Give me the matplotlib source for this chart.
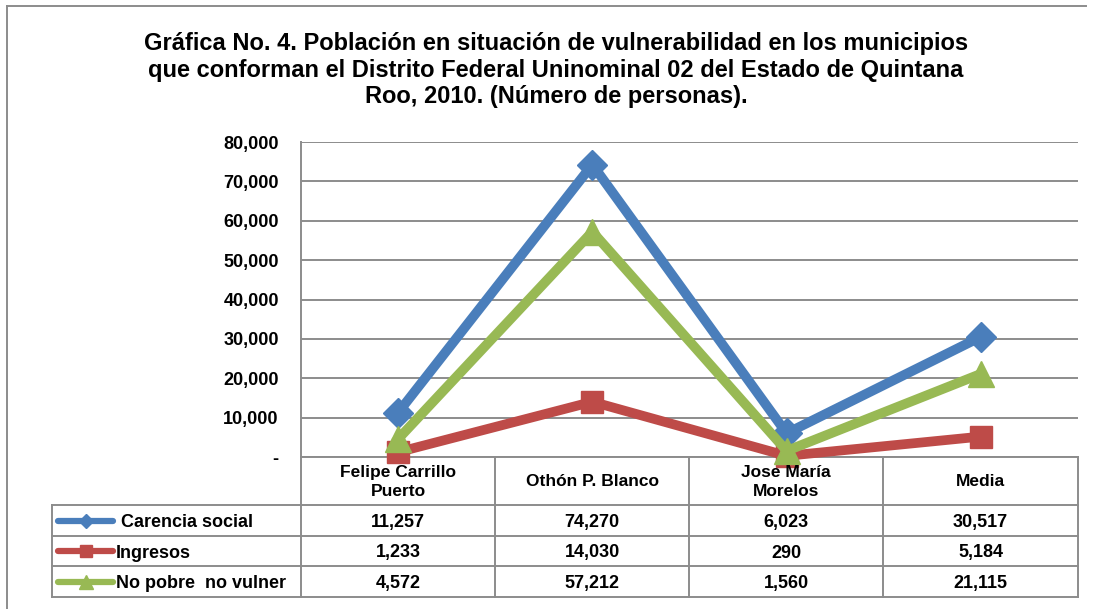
import matplotlib
matplotlib.use("Agg")
import matplotlib.pyplot as plt
from matplotlib.lines import Line2D
from matplotlib.ticker import FuncFormatter

plt.rcParams['font.family'] = ['Liberation Sans', 'DejaVu Sans']
plt.rcParams['font.weight'] = 'bold'

# data
municipios = ["Felipe Carrillo\nPuerto", "Othón P. Blanco", "Jose María\nMorelos", "Media"]
series_names = ["Carencia social", "Ingresos", "No pobre  no vulner"]
carencia = [11257, 74270, 6023, 30517]
ingresos = [1233, 14030, 290, 5184]
no_pobre = [4572, 57212, 1560, 21115]
y_ticks = [0, 10000, 20000, 30000, 40000, 50000, 60000, 70000, 80000]

series = [carencia, ingresos, no_pobre]
colors = ["#4a7ebb", "#be4b48", "#98b954"]
markers = ["D", "s", "^"]
msizes = [15, 16, 19]

W, H = 1095, 609
fig = plt.figure(figsize=(W / 100, H / 100), dpi=100)

def fx(x):
    return x / W

def fy(y):
    return 1 - y / H

grey = "#8c8c8c"
fs = 13

# plot area in pixels
L, R, T, B = 301, 1078, 142, 457
ax = fig.add_axes([fx(L), fy(B), fx(R - L), (B - T) / H])
ax.set_xlim(-0.5, 3.5)
ax.set_ylim(0, 80000)
ax.set_yticks(y_ticks)
ax.yaxis.set_major_formatter(FuncFormatter(lambda v, p: "-" if v == 0 else f"{int(v):,}"))
ax.set_xticks([])
ax.tick_params(axis='y', length=0, pad=16, labelsize=fs)
for lab in ax.get_yticklabels():
    lab.set_fontweight('bold')
ax.grid(axis='y', color=grey, linewidth=1.4)
ax.set_axisbelow(True)
for s in ['top', 'right']:
    ax.spines[s].set_visible(False)
for s in ['left', 'bottom']:
    ax.spines[s].set_color(grey)
    ax.spines[s].set_linewidth(1.4)

xs = range(len(municipios))
for vals, c, m, ms in zip(series, colors, markers, msizes):
    ax.plot(xs, vals, color=c, linewidth=7, marker=m, markersize=ms,
            clip_on=False, zorder=5, solid_joinstyle='miter')

# outer frame of the picture
fig.add_artist(Line2D([fx(7), fx(7)], [fy(6), fy(H)], color=grey, lw=1.4, transform=fig.transFigure))
fig.add_artist(Line2D([fx(7), fx(1086)], [fy(6), fy(6)], color=grey, lw=1.4, transform=fig.transFigure))

# title
fig.text(fx(556), fy(70),
         "Gráfica No. 4. Población en situación de vulnerabilidad en los municipios\n"
         "que conforman el Distrito Federal Uninominal 02 del Estado de Quintana\n"
         "Roo, 2010. (Número de personas).",
         ha='center', va='center', fontsize=17, fontweight='bold', linespacing=1.2)

# data table
cols = [301, 495, 689, 883, 1078]
rows = [457, 505, 536, 566, 597]
leg_left = 52

def hline(x0, x1, y):
    fig.add_artist(Line2D([fx(x0), fx(x1)], [fy(y), fy(y)], color=grey, lw=1.4,
                          transform=fig.transFigure, zorder=1))

def vline(x, y0, y1):
    fig.add_artist(Line2D([fx(x), fx(x)], [fy(y0), fy(y1)], color=grey, lw=1.4,
                          transform=fig.transFigure, zorder=1))

for y in rows[1:]:
    hline(leg_left, cols[-1], y)
for x in cols:
    vline(x, rows[0], rows[-1])
vline(leg_left, rows[1], rows[-1])

for i, name in enumerate(municipios):
    cx = (cols[i] + cols[i + 1]) / 2
    fig.text(fx(cx), fy((rows[0] + rows[1]) / 2 + 1), name, ha='center', va='center',
             fontsize=fs - 0.5, fontweight='bold', linespacing=1.3, zorder=2)

for r, (name, vals, c, m, ms) in enumerate(zip(series_names, series, colors, markers, msizes)):
    cy = (rows[r + 1] + rows[r + 2]) / 2
    fig.add_artist(Line2D([fx(58), fx(113)], [fy(cy), fy(cy)], color=c, lw=4.5,
                          solid_capstyle='round', transform=fig.transFigure))
    fig.add_artist(Line2D([fx(85.5)], [fy(cy)], color=c, marker=m, markersize=ms * 0.5,
                          transform=fig.transFigure))
    label = (" " + name) if r == 0 else name
    fig.text(fx(116), fy(cy), label, ha='left', va='center_baseline', fontsize=fs,
             fontweight='bold')
    for i, v in enumerate(vals):
        cx = (cols[i] + cols[i + 1]) / 2
        fig.text(fx(cx), fy(cy), f"{v:,}", ha='center', va='center_baseline', fontsize=fs,
                 fontweight='bold')

fig.savefig("out.png", dpi=100)
